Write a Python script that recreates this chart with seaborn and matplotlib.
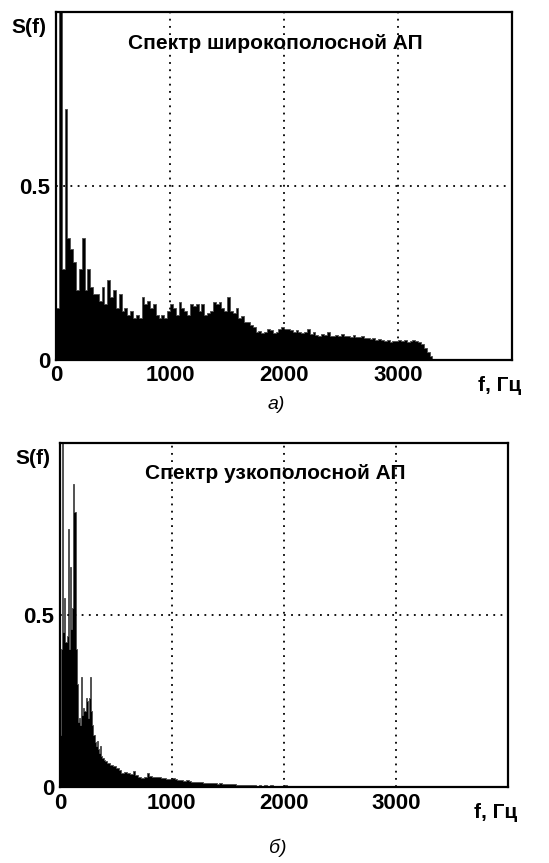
import numpy as np
import matplotlib
matplotlib.use("Agg")
import matplotlib.pyplot as plt
import seaborn as sns

# Broadband spectrum (a), 25 Hz step
freq_wide = list(range(0, 3325, 25))
s_wide = [0.15, 1.0, 0.26, 0.72, 0.35, 0.32, 0.28, 0.20, 0.26, 0.35,
          0.20, 0.26, 0.21, 0.19, 0.19, 0.17, 0.21, 0.16, 0.23, 0.18,
          0.20, 0.15, 0.19, 0.14, 0.15, 0.13, 0.14, 0.12, 0.13, 0.12,
          0.18, 0.16, 0.17, 0.15, 0.16, 0.13, 0.12, 0.13, 0.12, 0.14,
          0.16, 0.15, 0.13, 0.165, 0.15, 0.14, 0.13, 0.16, 0.155, 0.16,
          0.14, 0.16, 0.13, 0.135, 0.14, 0.165, 0.16, 0.165, 0.15, 0.14,
          0.18, 0.14, 0.135, 0.15, 0.12, 0.125, 0.11, 0.11, 0.10, 0.095,
          0.08, 0.082, 0.078, 0.08, 0.09, 0.085, 0.078, 0.08, 0.09, 0.095,
          0.088, 0.09, 0.085, 0.08, 0.085, 0.08, 0.078, 0.08, 0.09, 0.075,
          0.08, 0.072, 0.07, 0.075, 0.072, 0.08, 0.07, 0.068, 0.072, 0.07,
          0.075, 0.068, 0.07, 0.065, 0.072, 0.066, 0.065, 0.07, 0.062, 0.064,
          0.06, 0.062, 0.058, 0.06, 0.057, 0.055, 0.058, 0.052, 0.054, 0.053,
          0.056, 0.055, 0.058, 0.052, 0.055, 0.058, 0.054, 0.052, 0.045, 0.035,
          0.022, 0.01, 0.003]

# Narrowband spectrum (b): 10 Hz step up to 400 Hz, then 25 Hz
freq_narrow = list(range(0, 400, 10)) + list(range(400, 2500, 25))
s_narrow = [0.15, 0.40, 1.0, 0.45, 0.55, 0.42, 0.44, 0.75, 0.40, 0.64,
            0.46, 0.52, 0.88, 0.80, 0.40, 0.30, 0.19, 0.20, 0.18, 0.32,
            0.21, 0.23, 0.22, 0.26, 0.25, 0.20, 0.26, 0.32, 0.22, 0.18,
            0.15, 0.13, 0.12, 0.135, 0.11, 0.10, 0.12, 0.09, 0.085, 0.08,
            0.075, 0.07, 0.065, 0.06, 0.055, 0.05, 0.042, 0.045, 0.04, 0.038,
            0.047, 0.035, 0.03, 0.025, 0.03, 0.04, 0.033, 0.03, 0.028, 0.03,
            0.025, 0.026, 0.022, 0.024, 0.025, 0.022, 0.02, 0.021, 0.018, 0.02,
            0.017, 0.016, 0.015, 0.014, 0.015, 0.013, 0.012, 0.013, 0.011, 0.012,
            0.01, 0.011, 0.01, 0.009, 0.01, 0.008, 0.009, 0.007, 0.006, 0.006,
            0.005, 0.006, 0.005, 0.005, 0.004, 0.005, 0.004, 0.005, 0.004, 0.006,
            0.004, 0.004, 0.003, 0.004, 0.005, 0.003, 0.004, 0.003, 0.003, 0.003,
            0.002, 0.003, 0.002, 0.002, 0.003, 0.002, 0.002, 0.002, 0.003, 0.002,
            0.002, 0.002, 0.003, 0.002]

titles = ["Спектр широкополосной АП", "Спектр узкополосной АП"]
captions = ["а)", "б)"]
x_ticks = [0, 1000, 2000, 3000]
y_ticks = [0, 0.5]

sns.set_style("white")
plt.rcParams['font.family'] = ['Liberation Sans', 'DejaVu Sans']
plt.rcParams['text.color'] = 'black'
plt.rcParams['xtick.color'] = 'black'
plt.rcParams['ytick.color'] = 'black'

fig = plt.figure(figsize=(5.49, 8.63), dpi=100)
ax_a = fig.add_axes([0.102, 0.583, 0.831, 0.403])
ax_b = fig.add_axes([0.109, 0.088, 0.816, 0.399])


def bin_edges(f):
    step = f[-1] - f[-2]
    return list(f) + [f[-1] + step]


def draw_spectrum(ax, f, s, title):
    sns.histplot(x=f, weights=s, bins=bin_edges(f), ax=ax, color='black',
                 edgecolor='0.3', linewidth=0.6, alpha=1, element='step',
                 fill=True)
    ax.set_xlim(0, 4000)
    ax.set_ylim(0, 1)
    ax.set_xticks(x_ticks)
    ax.set_yticks(y_ticks)
    ax.set_yticklabels(["0", "0.5"])
    ax.grid(True, color='black', linestyle=(0, (1, 3)), linewidth=1.3)
    ax.set_axisbelow(False)
    ax.tick_params(direction='in', length=4, width=1, labelsize=16, pad=4,
                   labelcolor='black')
    for lab in ax.get_xticklabels() + ax.get_yticklabels():
        lab.set_fontweight('bold')
    for sp in ax.spines.values():
        sp.set_color('black')
        sp.set_linewidth(1.6)
    ax.set_xlabel("")
    ax.set_ylabel("")
    ax.text(0.48, 0.91, title, transform=ax.transAxes, ha='center', va='center',
            fontsize=15, fontweight='bold', color='black')
    ax.text(-0.02, 0.955, "S(f)", transform=ax.transAxes, ha='right',
            va='center', fontsize=15, fontweight='bold', color='black')
    ax.text(1.02, -0.075, "f, Гц", transform=ax.transAxes, ha='right',
            va='center', fontsize=15, fontweight='bold', color='black')


draw_spectrum(ax_a, freq_wide, s_wide, titles[0])
draw_spectrum(ax_b, freq_narrow, s_narrow, titles[1])

fig.text(0.503, 0.531, captions[0], ha='center', va='center', fontsize=14,
         style='italic', color='black')
fig.text(0.506, 0.017, captions[1], ha='center', va='center', fontsize=14,
         style='italic', color='black')

fig.savefig("out.png", dpi=100)
